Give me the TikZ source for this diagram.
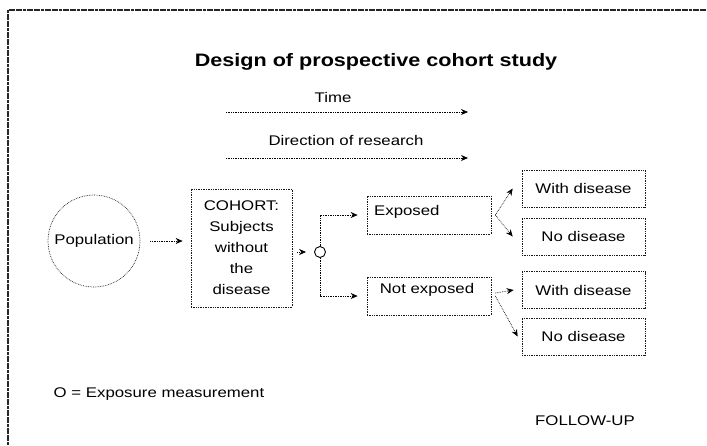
\documentclass[tikz,border=0pt]{standalone}
\usepackage{fontspec}
\setmainfont{Liberation Sans}[FakeStretch=1.2]
\usetikzlibrary{arrows.meta,positioning}

\tikzset{
    dotline/.style={densely dotted, line width=0.7pt, draw=black!90},
    arr/.style={dotline, -{Stealth[length=7pt,width=6pt]}, black},
    box/.style={draw, dotline, rectangle, inner sep=0pt, minimum width=123pt, minimum height=37pt},
    txt/.style={font=\fontsize{14}{21}\selectfont, inner sep=0pt, text=black}
}

\begin{document}
\begin{tikzpicture}[x=1pt,y=-1pt]
    \useasboundingbox (0,0) rectangle (707,445);
    % frame of the slide
    \draw [line width=1.5pt, black!85, dash pattern=on 3pt off 0.6pt] (8,445)--(8,10)--(707,10);

    \node [font=\bfseries\fontsize{18}{22}\selectfont] (title) at (376,62) {Design of prospective cohort study};

    % time and research arrows
    \coordinate (t0) at (226,112);
    \coordinate (t1) at (468,112);
    \coordinate (r0) at (226,158);
    \coordinate (r1) at (468,158);
    \node [txt] (time) at (333,97) {Time};
    \node [txt] (dir) at (346,140) {Direction of research};
    \draw [arr] (t0)--(t1);
    \draw [arr] (r0)--(r1);

    \node [circle, draw, dotline, minimum size=92pt, txt] (pop) at (94,241) {Population};
    \node [box, txt, align=center, minimum width=101pt, minimum height=118pt] (cohort) at (241.5,248) {COHORT:\\Subjects\\without\\the\\disease};
    \node [circle, draw, line width=0.9pt, black, minimum size=11pt, inner sep=0pt] (o) at (320,252) {};

    \node [box, minimum width=124pt, minimum height=38pt] (exp) at (429,215) {};
    \node [txt, anchor=west] (exptxt) at (374,212) {Exposed};
    \node [box, minimum width=124pt, minimum height=38pt] (nexp) at (429,296) {};
    \node [txt] (nexptxt) at (427,290) {Not exposed};

    \node [box, txt] (wd1) at (583.5,188.5) {With disease};
    \node [box, txt] (nd1) at (583.5,236.5) {No disease};
    \node [box, txt] (wd2) at (583.5,290) {With disease};
    \node [box, txt] (nd2) at (583.5,336.5) {No disease};

    \draw [arr, shorten <=10pt, shorten >=8pt] (pop.east)--(pop.east -| cohort.west);
    \draw [arr, shorten <=5pt, shorten >=8pt] (cohort.east |- o.west)--(o.west);
    \draw [arr, shorten >=9pt] (o.north) |- (exp.west);
    \draw [arr, shorten >=9pt] (o.south) |- (nexp.west);

    \draw [arr] ([xshift=4pt]exp.east)--([xshift=-9pt]wd1.west);
    \draw [arr] ([xshift=4pt]exp.east)--([xshift=-9pt]nd1.west);
    \draw [arr] ([xshift=4pt,yshift=3pt]nexp.east)--([xshift=-8pt]wd2.west);
    \draw [arr] ([xshift=4pt]nexp.east)--([xshift=-4pt]nd2.west);

    \node [txt] (note) at (159,394) {O = Exposure measurement};
    \node [txt] (fu) at (585,421) {FOLLOW-UP};
\end{tikzpicture}
\end{document}
